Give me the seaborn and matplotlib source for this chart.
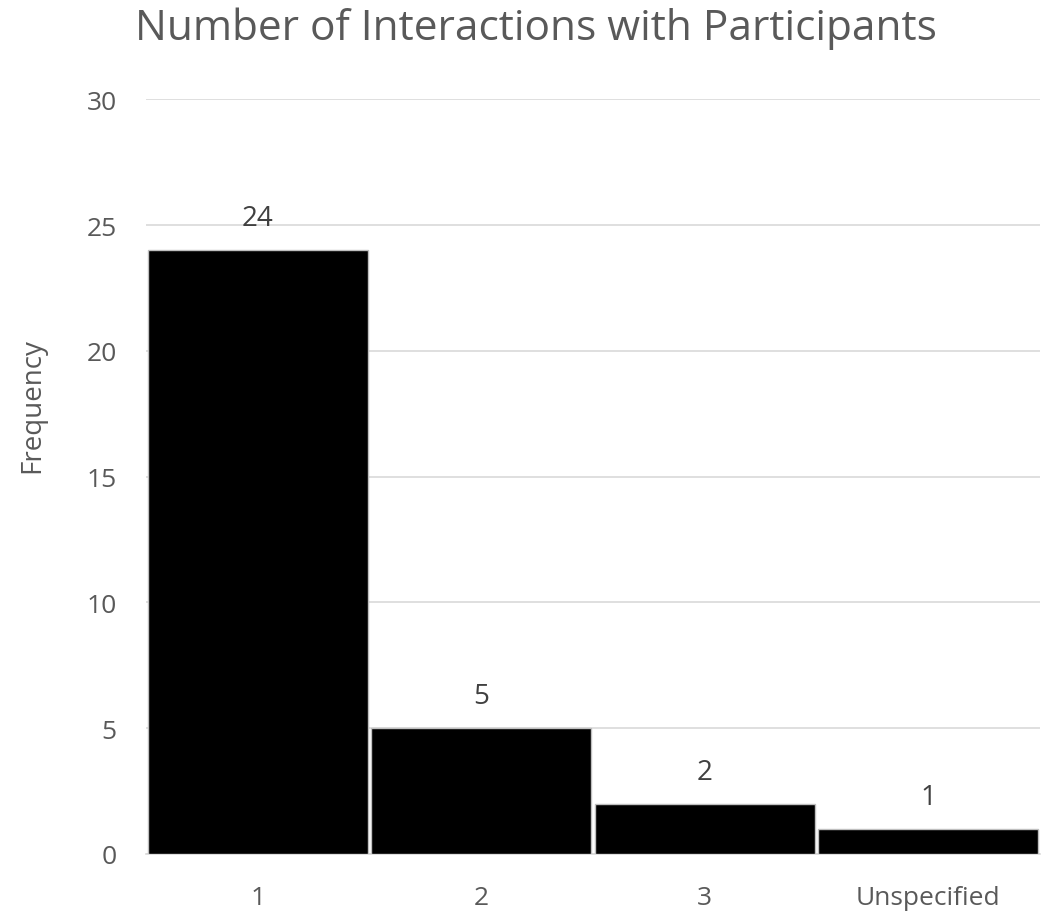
import matplotlib
matplotlib.use("Agg")
import matplotlib.pyplot as plt
import seaborn as sns
import pandas as pd

categories = ["1", "2", "3", "Unspecified"]
frequency = [24, 5, 2, 1]
y_ticks = [0, 5, 10, 15, 20, 25, 30]

sns.set_theme(style="white")
plt.rcParams["font.family"] = ["Open Sans", "DejaVu Sans"]

df = pd.DataFrame({"Interactions": categories, "Frequency": frequency})

fig = plt.figure(figsize=(10.43, 9.12), dpi=100)
ax = fig.add_axes([0.140, 0.0625, 0.857, 0.8275])

sns.barplot(data=df, x="Interactions", y="Frequency", color="black",
            width=0.985, edgecolor="#bfbfbf", linewidth=1.0, saturation=1,
            ax=ax, zorder=3)

ax.set_ylim(0, 30)
ax.set_yticks(y_ticks)
ax.set_xlim(-0.5, len(categories) - 0.5)
ax.yaxis.grid(True, color="#d9d9d9", linewidth=1.2, zorder=0)
ax.set_axisbelow(True)
for side in ["top", "right", "left"]:
    ax.spines[side].set_visible(False)
ax.spines["bottom"].set_color("#d9d9d9")
ax.spines["bottom"].set_linewidth(1.2)
ax.tick_params(axis="both", length=0, labelsize=19, colors="#595959")
ax.tick_params(axis="x", pad=22)
ax.tick_params(axis="y", pad=21)

ax.set_xlabel("")
ax.set_ylabel("Frequency", fontsize=20, color="#595959")
ax.yaxis.set_label_coords(-0.112, 0.596)

for i, v in enumerate(frequency):
    ax.text(i, v + 1.0, str(v), ha="center", va="baseline", fontsize=20,
            color="#404040")

fig.text(0.514, 0.969, "Number of Interactions with Participants",
         ha="center", va="center", fontsize=30.5, color="#595959")

fig.savefig("out.png", dpi=100, facecolor="white")
